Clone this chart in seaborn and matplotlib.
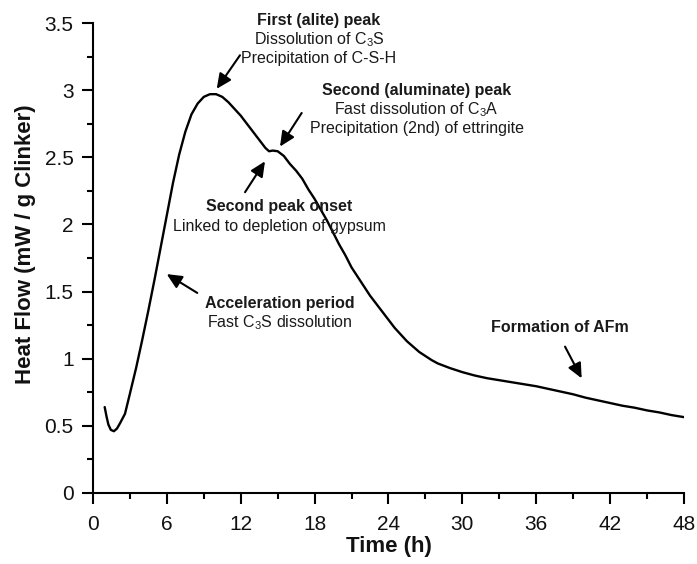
import matplotlib
matplotlib.use("Agg")
import matplotlib.pyplot as plt
import seaborn as sns
import pandas as pd
from matplotlib.ticker import MultipleLocator

# Isothermal calorimetry curve of a hydrating cement paste
hours = [0.95, 1.1, 1.25, 1.45, 1.7, 1.95, 2.2, 2.6, 3.0, 3.5, 4.0, 4.5, 5.0, 5.5,
         6.0, 6.5, 7.0, 7.5, 8.0, 8.5, 9.0, 9.5, 10.0, 10.5, 11.0, 11.5, 12.0,
         12.5, 13.0, 13.5, 14.0, 14.3, 14.6, 15.0, 15.5, 16.0, 16.5, 17.0, 17.5,
         18.0, 18.5, 19.0, 19.5, 20.0, 20.5, 21.0, 21.5, 22.0, 22.5, 23.0, 23.5,
         24.0, 24.5, 25.0, 25.5, 26.0, 26.5, 27.0, 27.5, 28.0, 29.0, 30.0, 31.0,
         32.0, 33.0, 34.0, 35.0, 36.0, 37.0, 38.0, 39.0, 40.0, 41.0, 42.0, 43.0,
         44.0, 45.0, 46.0, 47.0, 48.0]
heat_flow = [0.64, 0.57, 0.51, 0.47, 0.46, 0.48, 0.52, 0.59, 0.74, 0.93, 1.14, 1.36,
             1.59, 1.83, 2.07, 2.31, 2.52, 2.69, 2.82, 2.90, 2.95, 2.97, 2.97, 2.95,
             2.91, 2.86, 2.81, 2.75, 2.69, 2.63, 2.57, 2.545, 2.55, 2.545, 2.51, 2.45,
             2.40, 2.34, 2.26, 2.19, 2.11, 2.03, 1.94, 1.85, 1.77, 1.68, 1.61, 1.54,
             1.47, 1.41, 1.35, 1.29, 1.23, 1.18, 1.13, 1.09, 1.05, 1.02, 0.99, 0.965,
             0.93, 0.90, 0.875, 0.855, 0.84, 0.825, 0.81, 0.795, 0.775, 0.755, 0.735,
             0.71, 0.69, 0.67, 0.65, 0.635, 0.615, 0.60, 0.58, 0.565]

x_ticks = [0, 6, 12, 18, 24, 30, 36, 42, 48]
y_ticks = [0, 0.5, 1, 1.5, 2, 2.5, 3, 3.5]
y_tick_labels = ["0", "0.5", "1", "1.5", "2", "2.5", "3", "3.5"]

# (bold title, description lines, text centre (h, mW/g), arrow tail, arrow tip)
notes = [
    ("First (alite) peak", ["Dissolution of C$_3$S", "Precipitation of C-S-H"],
     (18.36, 3.52), (11.94, 3.26), (10.05, 3.01)),
    ("Second (aluminate) peak", ["Fast dissolution of C$_3$A", "Precipitation (2nd) of ettringite"],
     (26.29, 3.0), (16.95, 2.83), (15.19, 2.58)),
    ("Second peak onset", ["Linked to depletion of gypsum"],
     (15.11, 2.13), (12.35, 2.24), (13.97, 2.47)),
    ("Acceleration period", ["Fast C$_3$S dissolution"],
     (15.15, 1.41), (8.47, 1.49), (5.99, 1.63)),
    ("Formation of AFm", [],
     (37.93, 1.236), (38.34, 1.09), (39.69, 0.854)),
]

sns.set_theme(style="ticks")
plt.rcParams["font.family"] = ["Liberation Sans", "DejaVu Sans"]
plt.rcParams["mathtext.fontset"] = "custom"
plt.rcParams["mathtext.rm"] = "Liberation Sans"
plt.rcParams["mathtext.it"] = "Liberation Sans:italic"
plt.rcParams["mathtext.bf"] = "Liberation Sans:bold"

fig, ax = plt.subplots(figsize=(6.97, 5.64), dpi=100)
fig.subplots_adjust(left=0.1334, right=0.9813, bottom=0.1259, top=0.9592)

df = pd.DataFrame({"Time (h)": hours, "Heat Flow": heat_flow})
sns.lineplot(data=df, x="Time (h)", y="Heat Flow", color="black", linewidth=1.7,
             ax=ax, sort=False, estimator=None)

ax.set_xlim(0, 48)
ax.set_ylim(0, 3.5)
ax.set_xticks(x_ticks)
ax.set_xticklabels([str(t) for t in x_ticks])
ax.set_yticks(y_ticks)
ax.set_yticklabels(y_tick_labels)
ax.xaxis.set_minor_locator(MultipleLocator(3))
ax.yaxis.set_minor_locator(MultipleLocator(0.25))

for side in ("top", "right"):
    ax.spines[side].set_visible(False)
for side in ("left", "bottom"):
    ax.spines[side].set_linewidth(1.5)
    ax.spines[side].set_color("black")

ax.tick_params(which="major", direction="out", length=8, width=1.5, color="black",
               labelsize=15, labelcolor="#111111")
ax.tick_params(which="minor", direction="out", length=4.5, width=1.5, color="black")
ax.tick_params(axis="x", which="major", pad=8)
ax.tick_params(axis="y", which="major", pad=6)

ax.set_xlabel("Time (h)", fontsize=16, fontweight="bold", color="#111111", labelpad=1)
ax.set_ylabel("Heat Flow (mW / g Clinker)", fontsize=16, fontweight="bold", color="#111111")
ax.yaxis.set_label_coords(-0.097, 0.53)

line_step = 0.142  # vertical spacing between text lines in data units
for title, lines, (tx, ty), tail, tip in notes:
    ax.text(tx, ty, title, ha="center", va="center", fontsize=11.5, fontweight="bold",
            color="#1a1a1a", clip_on=False)
    for i, line in enumerate(lines, start=1):
        ax.text(tx, ty - i * line_step, line, ha="center", va="center", fontsize=11.5,
                color="#1a1a1a", clip_on=False)
    ax.annotate("", xy=tip, xytext=tail,
                arrowprops=dict(arrowstyle="-|>,head_length=0.75,head_width=0.35",
                                mutation_scale=12, lw=1.5, color="black",
                                shrinkA=0, shrinkB=0))

fig.savefig("out.png", dpi=100)
